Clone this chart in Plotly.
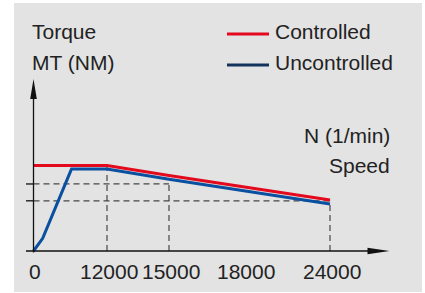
import numpy as np
import plotly.graph_objects as go

# ---------------- data ----------------
speed_ticks = [0, 12000, 15000, 18000, 24000]
speed_tick_labels = ["0", "12000", "15000", "18000", "24000"]

controlled_speed = [0, 12000, 15000, 24000]
controlled_torque = [100, 100, 88.2, 59.6]

uncontrolled_speed = [0, 1500, 6200, 12000, 15000, 24000]
uncontrolled_torque = [0, 14.9, 95.8, 95.8, 84.0, 55.0]

ref_level_speed = [15000, 24000]
ref_level_torque = [78.4, 58.7]

guide_speed = [12000, 15000, 24000]
guide_top = [100, 78.4, 58.7]

legend_names = ["Controlled", "Uncontrolled"]
y_title = ["Torque", "MT (NM)"]
x_title = ["N (1/min)", "Speed"]

# ---------------- layout constants ----------------
PAGE_W, PAGE_H = 425, 293
OFF = 0  # body margin removed by post_script
W, H = PAGE_W - OFF, PAGE_H - OFF
# schematic (non-linear) speed axis: speed -> axis position (pixel offsets from origin)
AXIS_SPEED = [0, 12000, 15000, 18000, 24000]
AXIS_POS = [0, 73.5, 135.5, 211, 296.5]
ORIGIN_PX = (33.5, 251)  # page pixels
Y_PX_PER_UNIT = 0.855

RED = "#e30a1e"
BLUE = "#0a50a0"
NAVY = "#13325c"
GRAY_BG = "#e3e3e3"
DASH_C = "#474747"
AX_C = "#111111"
FONT = dict(family="Liberation Sans, Arial, sans-serif", size=21, color="#222222")


def xpos(s):
    return np.interp(s, AXIS_SPEED, AXIS_POS)


def px(x):
    return (x - OFF) / W


def py(y):
    return 1 - (y - OFF) / H


fig = go.Figure()

# dashed reference lines
for s, t in zip(ref_level_speed, ref_level_torque):
    fig.add_trace(go.Scatter(x=[xpos(0), xpos(s)], y=[t, t], mode="lines",
                             line=dict(color=DASH_C, width=1.2, dash="6px,4px"),
                             hoverinfo="skip", showlegend=False))
for s, t in zip(guide_speed, guide_top):
    fig.add_trace(go.Scatter(x=[xpos(s), xpos(s)], y=[0, t], mode="lines",
                             line=dict(color=DASH_C, width=1.2, dash="6px,4px"),
                             hoverinfo="skip", showlegend=False))

# curves
fig.add_trace(go.Scatter(x=xpos(uncontrolled_speed), y=uncontrolled_torque, mode="lines",
                         name=legend_names[1], line=dict(color=BLUE, width=3),
                         showlegend=False))
fig.add_trace(go.Scatter(x=xpos(controlled_speed), y=controlled_torque, mode="lines",
                         name=legend_names[0], line=dict(color=RED, width=3),
                         showlegend=False))

shapes = []
# gray background panel
shapes.append(dict(type="rect", xref="paper", yref="paper", x0=px(14), x1=px(422),
                   y0=py(292), y1=py(3), fillcolor=GRAY_BG, line=dict(width=0), layer="below"))
ox, oy = ORIGIN_PX
# axes
shapes.append(dict(type="line", xref="paper", yref="paper", x0=px(26), x1=px(369),
                   y0=py(oy), y1=py(oy), line=dict(color=AX_C, width=1.3)))
shapes.append(dict(type="line", xref="paper", yref="paper", x0=px(ox), x1=px(ox),
                   y0=py(oy + 1.5), y1=py(98), line=dict(color=AX_C, width=1.3)))
# arrowheads
shapes.append(dict(type="path", xref="paper", yref="paper",
                   path=f"M{px(ox-3.3)},{py(99)} L{px(ox+3.3)},{py(99)} L{px(ox)},{py(79)} Z",
                   fillcolor=AX_C, line=dict(width=0)))
shapes.append(dict(type="path", xref="paper", yref="paper",
                   path=f"M{px(367.5)},{py(oy-3.3)} L{px(367.5)},{py(oy+3.3)} L{px(389.5)},{py(oy)} Z",
                   fillcolor=AX_C, line=dict(width=0)))
# small y ticks at the reference levels
for t in ref_level_torque:
    shapes.append(dict(type="line", xref="paper", yref="y", x0=px(26), x1=px(ox),
                       y0=t, y1=t, line=dict(color=AX_C, width=1.3)))
# legend swatches
shapes.append(dict(type="line", xref="paper", yref="paper", x0=px(227), x1=px(269),
                   y0=py(34), y1=py(34), line=dict(color=RED, width=3)))
shapes.append(dict(type="line", xref="paper", yref="paper", x0=px(227), x1=px(269),
                   y0=py(65), y1=py(65), line=dict(color=NAVY, width=3)))

ann = []
ann.append(dict(text=y_title[0], x=px(30), y=py(32), xanchor="left"))
ann.append(dict(text=y_title[1], x=px(30), y=py(62.5), xanchor="left"))
ann.append(dict(text=legend_names[0], x=px(273), y=py(32), xanchor="left"))
ann.append(dict(text=legend_names[1], x=px(273), y=py(63), xanchor="left"))
ann.append(dict(text=x_title[0], x=px(392), y=py(135), xanchor="right"))
ann.append(dict(text=x_title[1], x=px(392), y=py(165), xanchor="right"))
annotations = []
for a in ann:
    a.update(xref="paper", yref="paper", yanchor="middle", showarrow=False, font=FONT)
    annotations.append(a)
for s, lab in zip(speed_ticks, speed_tick_labels):
    annotations.append(dict(text=lab, x=xpos(s) + 1.5, xref="x", y=py(271.5), yref="paper",
                            xanchor="center", yanchor="middle", showarrow=False, font=FONT))

fig.update_layout(
    width=W, height=H, autosize=False,
    margin=dict(l=0, r=0, t=0, b=0, pad=0),
    paper_bgcolor="white", plot_bgcolor="rgba(0,0,0,0)",
    xaxis=dict(range=[-(ox - OFF), W - (ox - OFF)], visible=False, fixedrange=True),
    yaxis=dict(range=[(oy - PAGE_H) / Y_PX_PER_UNIT, (oy - OFF) / Y_PX_PER_UNIT],
               visible=False, fixedrange=True),
    shapes=shapes, annotations=annotations, showlegend=False,
    hovermode=False,
)

fig.write_html(
    "out.html",
    config={"displayModeBar": False, "staticPlot": True},
    post_script="document.body.style.margin='0';document.documentElement.style.overflow='hidden';",
)
